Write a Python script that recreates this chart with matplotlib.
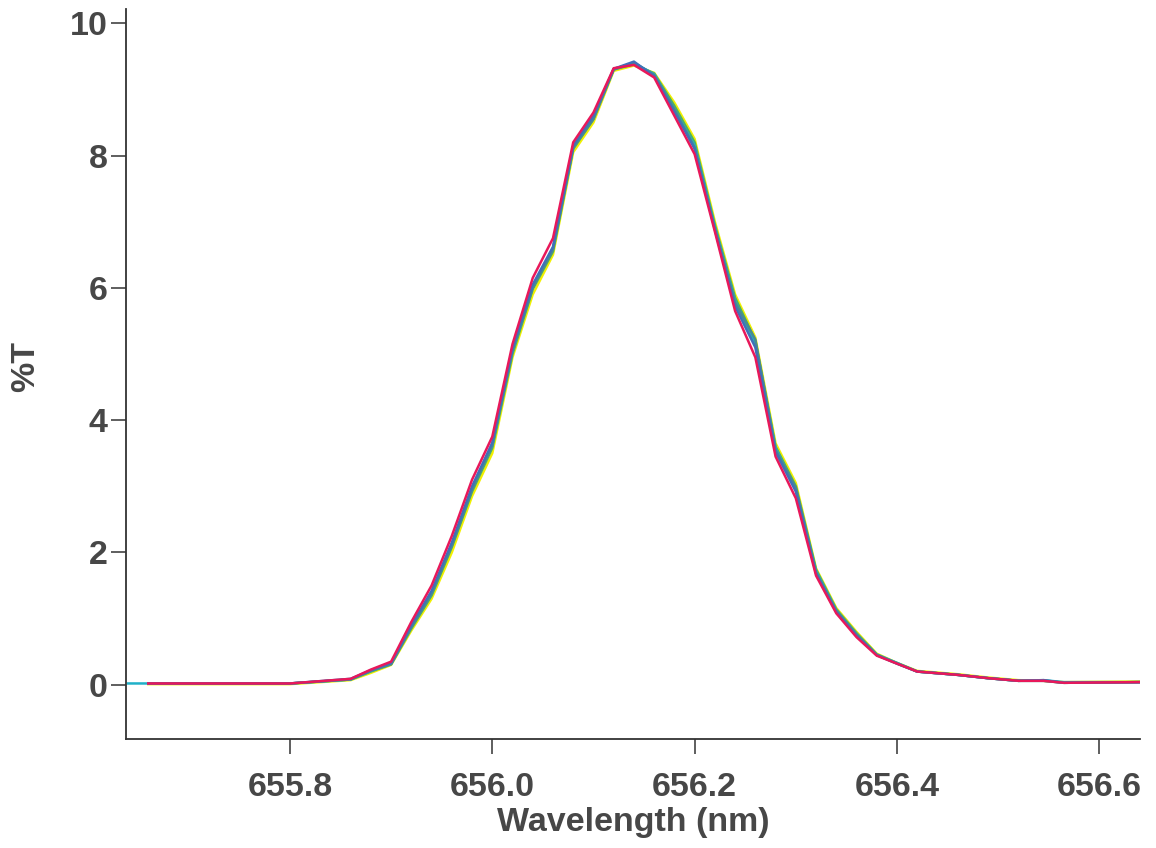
import numpy as np
import matplotlib
matplotlib.use("Agg")
import matplotlib.pyplot as plt

# wavelength grid (nm)
WL = [655.66, 655.80, 655.86, 655.88, 655.90, 655.92, 655.94, 655.96, 655.98,
      656.00, 656.02, 656.04, 656.06, 656.08, 656.10, 656.12, 656.14, 656.16,
      656.18, 656.20, 656.22, 656.24, 656.26, 656.28, 656.30, 656.32, 656.34,
      656.36, 656.38, 656.40, 656.42, 656.46, 656.49, 656.52, 656.545, 656.565,
      656.64]
WL_CYAN = [655.64] + WL

T_YELLOW = [0.01, 0.01, 0.07, 0.18, 0.30, 0.82, 1.30, 2.00, 2.85, 3.50, 4.95,
            5.90, 6.50, 8.05, 8.50, 9.28, 9.36, 9.25, 8.80, 8.25, 7.00, 5.90,
            5.25, 3.65, 3.05, 1.76, 1.16, 0.80, 0.47, 0.33, 0.21, 0.16, 0.11,
            0.07, 0.06, 0.04, 0.05]
T_GREEN = [0.02, 0.02, 0.08, 0.20, 0.31, 0.85, 1.35, 2.08, 2.92, 3.58, 5.00,
           5.98, 6.55, 8.10, 8.55, 9.30, 9.38, 9.24, 8.75, 8.20, 6.95, 5.85,
           5.20, 3.60, 3.00, 1.74, 1.14, 0.78, 0.46, 0.33, 0.20, 0.15, 0.10,
           0.06, 0.06, 0.03, 0.04]
T_CYAN = [0.02, 0.02, 0.02, 0.08, 0.21, 0.32, 0.88, 1.38, 2.12, 2.96, 3.62, 5.05,
          6.02, 6.60, 8.12, 8.58, 9.31, 9.40, 9.23, 8.70, 8.15, 6.92, 5.80,
          5.15, 3.58, 2.95, 1.72, 1.12, 0.76, 0.45, 0.33, 0.20, 0.15, 0.10,
          0.06, 0.07, 0.04, 0.04]
T_TEAL = [0.02, 0.02, 0.08, 0.21, 0.31, 0.87, 1.38, 2.10, 2.95, 3.62, 5.05,
          6.00, 6.58, 8.12, 8.55, 9.30, 9.40, 9.22, 8.70, 8.12, 6.90, 5.78,
          5.22, 3.55, 2.98, 1.70, 1.12, 0.76, 0.45, 0.32, 0.20, 0.15, 0.10,
          0.06, 0.06, 0.03, 0.04]
T_BLUE = [0.02, 0.02, 0.09, 0.22, 0.33, 0.90, 1.42, 2.15, 3.00, 3.66, 5.08,
          6.05, 6.62, 8.15, 8.60, 9.31, 9.42, 9.20, 8.66, 8.10, 6.88, 5.72,
          5.10, 3.52, 2.92, 1.68, 1.10, 0.74, 0.45, 0.32, 0.20, 0.15, 0.10,
          0.06, 0.07, 0.03, 0.04]
T_RED = [0.02, 0.02, 0.09, 0.23, 0.35, 0.95, 1.50, 2.25, 3.10, 3.75, 5.15,
         6.15, 6.75, 8.20, 8.65, 9.32, 9.37, 9.18, 8.60, 8.02, 6.85, 5.65,
         4.95, 3.45, 2.82, 1.65, 1.08, 0.72, 0.44, 0.32, 0.20, 0.15, 0.10,
         0.06, 0.06, 0.03, 0.04]

SERIES = [
    (WL, T_YELLOW, "#f2f000"),
    (WL, T_GREEN, "#50b060"),
    (WL_CYAN, T_CYAN, "#20b0c8"),
    (WL, T_TEAL, "#4a8a90"),
    (WL, T_BLUE, "#4070b8"),
    (WL, T_RED, "#e8185a"),
]

X_TICKS = [655.8, 656.0, 656.2, 656.4, 656.6]
Y_TICKS = [0, 2, 4, 6, 8, 10]

TXT = "#474747"
FONT = ["Liberation Sans", "DejaVu Sans"]


def main():
    plt.rcParams["font.family"] = FONT
    fig = plt.figure(figsize=(11.56, 8.48), dpi=100)
    ax = fig.add_axes([0.109, 0.1285, 0.877, 0.8605])

    for x, y, c in SERIES:
        ax.plot(x, y, color=c, linewidth=1.8)

    ax.set_xlim(655.638, 656.64)
    ax.set_ylim(-0.82, 10.21)
    ax.set_xticks(X_TICKS)
    ax.set_xticklabels([f"{v:.1f}" for v in X_TICKS])
    ax.set_yticks(Y_TICKS)

    for s in ["top", "right"]:
        ax.spines[s].set_visible(False)
    for s in ["left", "bottom"]:
        ax.spines[s].set_color("#333333")
        ax.spines[s].set_linewidth(1.3)

    ax.tick_params(axis="both", direction="out", length=10.5, width=1.1,
                   color="#333333", labelsize=24.5, labelcolor=TXT)
    ax.tick_params(axis="x", pad=13)
    ax.tick_params(axis="y", pad=3)
    for lab in ax.get_xticklabels() + ax.get_yticklabels():
        lab.set_fontweight("bold")

    ax.set_xlabel("Wavelength (nm)", fontsize=24.5, fontweight="bold",
                  color=TXT, labelpad=3)
    ax.set_ylabel("%T", fontsize=24.5, fontweight="bold", color=TXT)
    ax.yaxis.set_label_coords(-0.084, 0.51)

    fig.savefig("out.png", dpi=100, facecolor="white")


if __name__ == "__main__":
    main()
